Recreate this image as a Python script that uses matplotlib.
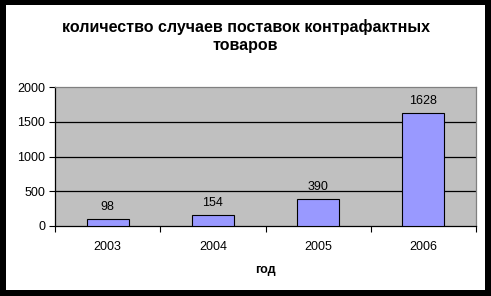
import numpy as np
import matplotlib.pyplot as plt
from matplotlib.patches import Rectangle

years = ['2003', '2004', '2005', '2006']
cases = [98, 154, 390, 1628]
y_ticks = [0, 500, 1000, 1500, 2000]

plt.rcParams['font.family'] = ['Liberation Sans', 'DejaVu Sans']

W, H = 491, 296
fig = plt.figure(figsize=(W / 100, H / 100), dpi=100)
fig.patch.set_facecolor('black')
# white inner panel inside the black frame
fig.add_artist(Rectangle((6 / W, 6 / H), 479 / W, 285 / H, transform=fig.transFigure,
                         facecolor='white', edgecolor='none', zorder=0))

ax = fig.add_axes([55 / W, 70 / H, 421 / W, 139 / H])
ax.set_facecolor('#C0C0C0')

x = np.arange(len(years))
bars = ax.bar(x, cases, width=0.4, color='#9999FF', edgecolor='black', linewidth=0.8, zorder=3)
for b, v in zip(bars, cases):
    ax.annotate(str(v), (b.get_x() + b.get_width() / 2, v), xytext=(0, 4.5),
                textcoords='offset points', ha='center', va='bottom', fontsize=9)

ax.set_xlim(-0.5, len(years) - 0.5)
ax.set_ylim(0, 2000)
ax.set_yticks(y_ticks)
ax.set_yticklabels([str(t) for t in y_ticks], fontsize=9)
ax.set_xticks(x)
ax.set_xticklabels(years, fontsize=9)
ax.tick_params(axis='x', length=0, pad=11)
ax.set_xticks(np.arange(len(years) + 1) - 0.5, minor=True)
ax.tick_params(axis='x', which='minor', length=4, width=0.8, color='black')
ax.tick_params(axis='y', length=4, width=0.8, pad=3)

for t in y_ticks[1:-1]:
    ax.axhline(t, color='black', linewidth=0.9, zorder=1)

for s in ['top', 'right']:
    ax.spines[s].set_color('#808080')
    ax.spines[s].set_linewidth(0.9)
for s in ['left', 'bottom']:
    ax.spines[s].set_color('black')
    ax.spines[s].set_linewidth(0.9)

ax.set_xlabel('год', fontsize=9, fontweight='bold', labelpad=8)
fig.text(0.5, 1 - 36 / H, 'количество случаев поставок контрафактных\nтоваров',
         ha='center', va='center', fontsize=11.5, fontweight='bold', linespacing=1.3)

fig.savefig('out.png', dpi=100, facecolor=fig.get_facecolor())
